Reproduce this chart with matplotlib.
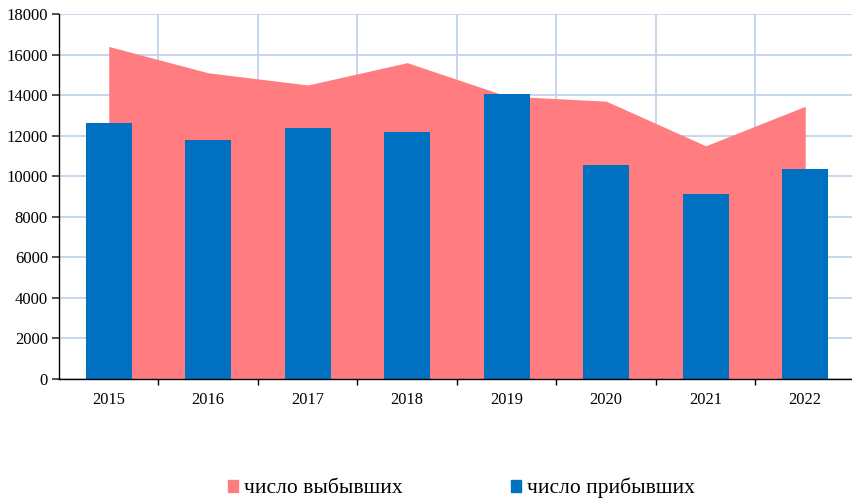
import matplotlib
matplotlib.use("Agg")
import matplotlib.pyplot as plt
from matplotlib.patches import Patch
import numpy as np

years = ["2015", "2016", "2017", "2018", "2019", "2020", "2021", "2022"]
departed = [16400, 15100, 14500, 15600, 13950, 13700, 11500, 13450]   # число выбывших
arrived = [12600, 11800, 12400, 12200, 14050, 10550, 9100, 10380]      # число прибывших

PINK = "#FF7C80"
BLUE = "#0070C0"
GRID = "#C3D3EA"

plt.rcParams["font.family"] = ["Liberation Serif", "DejaVu Serif"]

fig = plt.figure(figsize=(8.53, 4.98), dpi=100)
ax = fig.add_axes([59 / 853, 119 / 498, 796 / 853, 365 / 498])

x = np.arange(len(years))
ax.fill_between(x, departed, 0, color=PINK, linewidth=0, zorder=2)
ax.bar(x, arrived, width=0.46, color=BLUE, zorder=3)

ax.set_xlim(-0.5, len(years) - 0.5)
ax.set_ylim(0, 18000)
ax.set_yticks(np.arange(0, 18001, 2000))
ax.set_xticks(x)
ax.set_xticklabels(years, fontsize=11.8)
ax.set_xticks(x[:-1] + 0.5, minor=True)
ax.tick_params(axis="x", which="major", length=0, pad=9)
ax.tick_params(axis="x", which="minor", length=8, width=1, color="black", direction="inout")
ax.tick_params(axis="y", labelsize=12, length=5, width=1.2, color="#333333", pad=3)

ax.grid(axis="y", color=GRID, linewidth=1.3, zorder=0)
ax.grid(axis="x", which="minor", color=GRID, linewidth=1.3, zorder=0)
ax.set_axisbelow(True)
for side in ["top", "right"]:
    ax.spines[side].set_visible(False)
for side in ["left", "bottom"]:
    ax.spines[side].set_color("black")
    ax.spines[side].set_linewidth(1)
    ax.spines[side].set_zorder(5)

handles = [Patch(color=PINK, label="число выбывших"), Patch(color=BLUE, label="число прибывших")]
fig.legend(handles=handles, loc="center", bbox_to_anchor=(0.541, 0.02), ncol=2,
           frameon=False, fontsize=15.5, handlelength=0.47, handleheight=0.47,
           handletextpad=0.3, columnspacing=5.0, borderpad=0)

fig.savefig("out.png", dpi=100)
